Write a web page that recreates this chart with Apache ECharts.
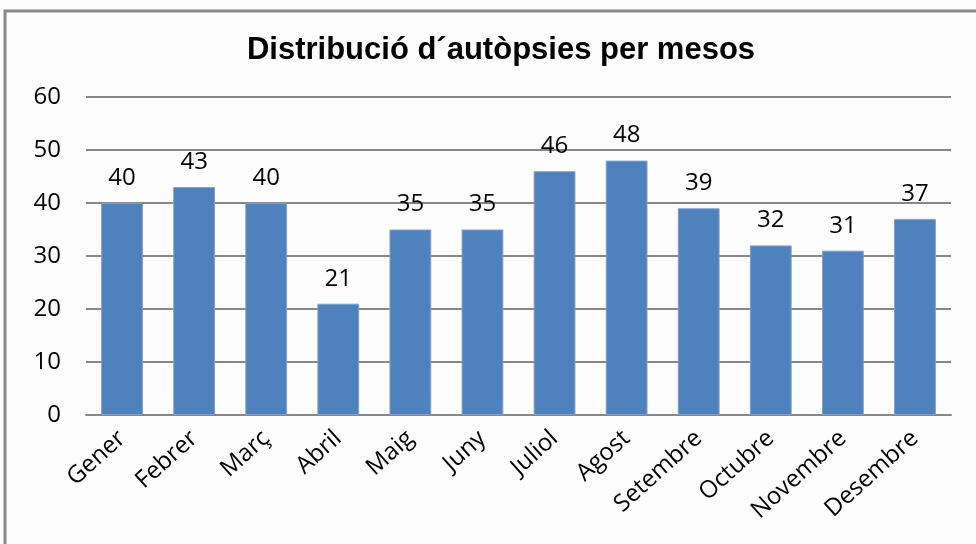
<!DOCTYPE html>
<html>
<head>
<meta charset="utf-8">
<script src="https://cdn.jsdelivr.net/npm/echarts@6/dist/echarts.min.js"></script>
<style>
  html, body { margin: 0; padding: 0; background: #fff; }
  #chart { width: 976px; height: 544px; }
</style>
</head>
<body>
<div id="chart"></div>
<script>
// dades
var mesos = ["Gener", "Febrer", "Març", "Abril", "Maig", "Juny", "Juliol", "Agost", "Setembre", "Octubre", "Novembre", "Desembre"];
var autopsies = [40, 43, 40, 21, 35, 35, 46, 48, 39, 32, 31, 37];

var myChart = echarts.init(document.getElementById("chart"));

var option = {
  backgroundColor: "#fdfdfd",
  animation: false,
  textStyle: { fontFamily: "Open Sans" },
  title: {
    text: "Distribució d´autòpsies per mesos",
    left: 496,
    textAlign: "center",
    top: 30,
    textStyle: { fontFamily: "Liberation Sans", fontSize: 31, fontWeight: "bold", color: "#000" }
  },
  graphic: [
    {
      type: "rect",
      shape: { x: 5, y: 11, width: 1000, height: 600 },
      style: { fill: "none", stroke: "#8a8a8a", lineWidth: 3 }
    }
  ],
  grid: { left: 86, right: 25, top: 97, bottom: 129 },
  xAxis: {
    type: "category",
    data: mesos,
    axisTick: { show: false },
    axisLine: { lineStyle: { color: "#878787", width: 2 } },
    axisLabel: { rotate: 42, fontSize: 24, color: "#000", margin: 20, interval: 0 }
  },
  yAxis: {
    type: "value",
    min: 0,
    max: 60,
    interval: 10,
    axisLine: { show: false },
    axisTick: { show: false },
    axisLabel: { fontSize: 24, color: "#000", margin: 25 },
    splitLine: { lineStyle: { color: "#878787", width: 2 } }
  },
  series: [
    {
      type: "bar",
      data: autopsies,
      barWidth: "58%",
      itemStyle: { color: "#4f81bd", borderColor: "#7ea2d0", borderWidth: 1 },
      label: { show: true, position: "top", distance: 13, fontSize: 24, color: "#000" }
    }
  ]
};

myChart.setOption(option);
</script>
</body>
</html>
